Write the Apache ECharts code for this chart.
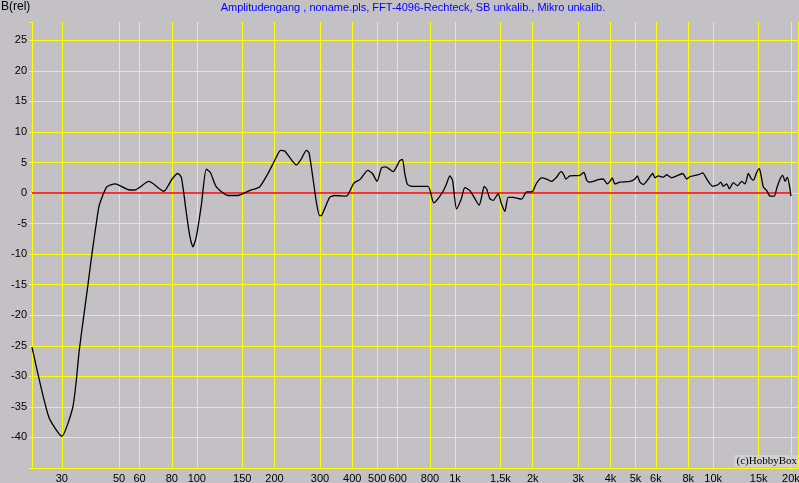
<!DOCTYPE html>
<html><head><meta charset="utf-8">
<script src="https://cdn.jsdelivr.net/npm/echarts@6/dist/echarts.min.js"></script>
<style>html,body{margin:0;padding:0;background:#c3c1c4;overflow:hidden}#c{width:799px;height:483px}</style>
</head><body><div id="c"></div>
<script>
const freqs = [23,26.7,30,33.0,34.1,35.0,36.2,37.8,39.3,40.8,41.9,44.8,48.3,54.9,57.4,65.2,74.5,80.2,84.4,87.1,91.0,93.8,96.6,99.5,104.1,108.8,112.8,119,132,144,160,175,188.6,200,211,219,235,243,254,265.7,272,282,290.5,299,305,327,342,380,405,428,460,479,499,519,539,576,611,626,639,655,688,786,818,828,860,899,927,955,978,1014,1059,1091,1141,1194,1240,1267,1297,1325,1364,1405,1469,1514,1560,1606,1679,1810,1893,1979,2008,2057,2118,2163,2262,2366,2474,2571,2625,2688,2786,3046,3157,3235,3309,3430,3586,3750,3888,3981,4064,4163,4353,4760,4977,5080,5203,5359,5604,5829,5949,6126,6406,6601,6903,7219,7621,7897,8133,8503,8757,9109,9438,9720,9957,10162,10467,10693,10944,11283,11548,11968,12403,12898,13285,13683,13977,14307,14748,15094,15321,15643,16122,16603,17250,17624,18152,18591,18981,19374,19848,20000];
const levels = [-25.2,-36.6,-39.8,-35.3,-30.9,-26.0,-21.2,-15.3,-9.8,-5.0,-2.0,1.0,1.5,0.5,0.5,1.9,0.3,2.3,3.2,2.6,-3.1,-6.9,-8.8,-7.2,-2.0,3.9,3.4,1.0,-0.4,-0.4,0.4,1.0,3.2,5.3,7.0,6.9,5.2,4.6,5.6,7.0,6.6,2.3,-1.5,-3.7,-3.6,-0.7,-0.4,-0.5,1.6,2.2,3.7,3.2,1.9,4.1,4.3,3.5,5.3,5.5,3.2,1.4,1.1,1.1,-1.2,-1.6,-0.9,0.3,1.5,2.8,2.1,-2.6,-0.9,0.9,0.4,-0.9,-2.0,-0.7,1.1,0.7,-0.9,-1.2,-0.1,-1.8,-3.0,-0.7,-0.7,-1.0,0.2,0.2,0.4,1.4,2.2,2.5,2.3,1.9,2.6,3.5,3.2,2.3,2.8,2.9,3.4,2.1,1.8,1.9,2.2,2.3,1.5,1.9,2.5,1.5,1.8,1.9,2.3,2.8,1.8,1.4,2.3,3.2,2.5,2.8,2.6,3.0,2.5,2.8,3.2,2.3,2.7,2.9,3.0,3.3,2.3,1.5,1.1,1.2,1.4,1.8,1.1,1.5,0.7,1.7,1.2,1.9,1.5,3.2,2.5,2.1,3.4,4.0,2.9,1.0,0.4,-0.5,-0.5,0.8,2.3,2.9,1.9,2.6,0.6,-0.5];
const xTicks = [30,50,60,80,100,150,200,300,400,500,600,800,1000,1500,2000,3000,4000,5000,6000,8000,10000,15000,20000];
const xTickLabels = ['30','50','60','80','100','150','200','300','400','500','600','800','1k','1,5k','2k','3k','4k','5k','6k','8k','10k','15k','20k'];
const yTicks = [-40,-35,-30,-25,-20,-15,-10,-5,0,5,10,15,20,25];
const refFreqs = [23, 20000];
const refLevels = [0, 0];
const titleText = 'Amplitudengang , noname.pls, FFT-4096-Rechteck, SB unkalib., Mikro unkalib.';
const yName = 'B(rel)';
const copyright = '(c)HobbyBox';

const YEL = '#ffff00';
const RED = '#ff0000';
const FONT = 'Liberation Sans, Arial, sans-serif';
const chart = echarts.init(document.getElementById('c'), null, {renderer: 'canvas'});

const gridLines = [];
xTicks.forEach((v, i) => gridLines.push({
  xAxis: v,
  lineStyle: {color: YEL, width: 1, type: 'solid'},
  label: {show: true, position: 'start', formatter: xTickLabels[i], color: '#000', fontSize: 11, fontFamily: FONT, distance: 5}
}));
gridLines.push({xAxis: 21300, lineStyle: {color: YEL, width: 1, type: 'solid'}, label: {show: false}});
yTicks.forEach(v => gridLines.push({
  yAxis: v,
  lineStyle: {color: YEL, width: 1, type: 'solid'},
  label: {show: false}
}));

chart.setOption({
  animation: false,
  backgroundColor: '#c3c1c4',
  grid: {left: 32, right: 1, top: 22, bottom: 15, containLabel: false},
  xAxis: {
    type: 'log', logBase: 10, min: 23, max: 21300,
    axisLine: {show: true, onZero: false, lineStyle: {color: YEL, width: 1}},
    axisTick: {show: false}, axisLabel: {show: false}, splitLine: {show: false}, minorSplitLine: {show: false}
  },
  yAxis: {
    type: 'value', min: -45, max: 28, interval: 5,
    axisLine: {show: true, onZero: false, lineStyle: {color: YEL, width: 1}},
    axisTick: {show: true, length: 3, lineStyle: {color: YEL}},
    axisLabel: {color: '#000', fontSize: 11, fontFamily: FONT, margin: 5,
      formatter: v => yTicks.indexOf(v) >= 0 ? String(v) : ''},
    splitLine: {show: false}
  },
  graphic: [
    {type: 'text', left: 1, top: 1, style: {text: yName, font: '12px ' + FONT, fill: '#000'}},
    {type: 'text', x: 413, y: 8, style: {text: titleText, font: '11px ' + FONT, fill: '#0000ff', align: 'center', verticalAlign: 'middle'}},
    {type: 'text', x: 798, y: 461, z: 100, style: {text: copyright, font: '11px Liberation Serif, Times New Roman, serif', fill: '#000', align: 'right', verticalAlign: 'middle', backgroundColor: '#d2d0d3', padding: [1, 1, 0, 2]}}
  ],
  series: [
    {
      type: 'line', data: [], z: 1, silent: true,
      markLine: {silent: true, symbol: 'none', animation: false, z: 1, data: gridLines}
    },
    {
      type: 'line', z: 5, silent: true, showSymbol: false, symbol: 'none',
      lineStyle: {color: RED, width: 1.6},
      data: refFreqs.map((f, i) => [f, refLevels[i]])
    },
    {
      type: 'line', z: 10, showSymbol: false, symbol: 'none', smooth: 0.2,
      lineStyle: {color: '#000', width: 1.3},
      data: freqs.map((f, i) => [f, levels[i]])
    }
  ]
});
</script></body></html>
